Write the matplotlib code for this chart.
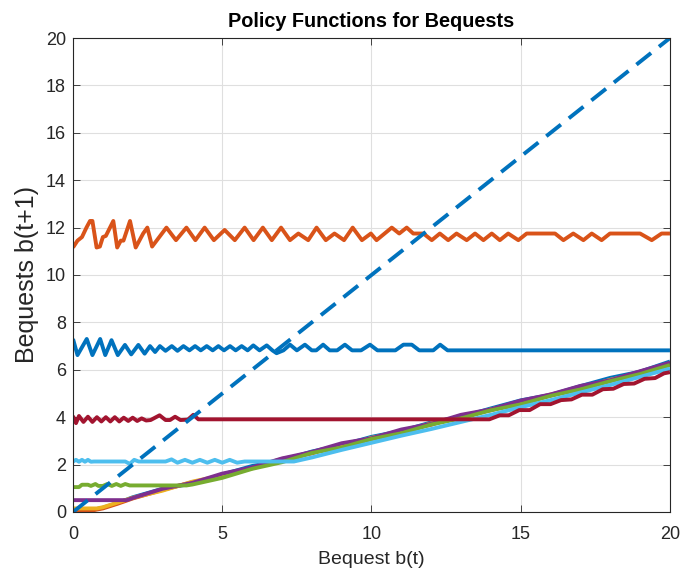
import matplotlib.pyplot as plt

plt.rcParams['font.family'] = ['Liberation Sans', 'DejaVu Sans']

# MATLAB default colour order
BLUE = '#0072BD'
ORANGE = '#D95319'
YELLOW = '#EDB120'
PURPLE = '#7E2F8E'
GREEN = '#77AC30'
LBLUE = '#4DBEEE'
DRED = '#A2142F'
AX_COL = '#262626'

# policy functions b(t+1) = g(b(t)), one per state
rise_x = list(range(2, 21))

blue_lo_x = [0, 0.5, 1, 1.5] + rise_x
blue_lo_y = [0.0, 0.05, 0.18, 0.38, 0.62, 0.98, 1.20, 1.58, 1.94, 2.18, 2.55, 2.82,
             3.17, 3.42, 3.78, 4.01, 4.37, 4.71, 4.94, 5.31, 5.66, 5.92, 6.35]

orange_lo_x = [0, 0.5, 1, 1.5] + rise_x
orange_lo_y = [0.0, 0.03, 0.15, 0.35, 0.57, 0.93, 1.26, 1.5, 1.86, 2.24, 2.47, 2.86,
               3.08, 3.44, 3.68, 4.07, 4.29, 4.66, 4.91, 5.27, 5.53, 5.92, 6.25]

yellow_x = [0, 0.8, 1.0, 1.5] + rise_x
yellow_y = [0.15, 0.15, 0.2, 0.4, 0.6, 0.9, 1.28, 1.55, 1.84, 2.22, 2.51, 2.78,
            3.13, 3.39, 3.74, 3.97, 4.33, 4.61, 4.96, 5.22, 5.58, 5.86, 6.2]

purple_x = [0, 1.8] + rise_x
purple_y = [0.5, 0.5, 0.59, 0.98, 1.23, 1.62, 1.88, 2.26, 2.53, 2.9, 3.11, 3.48,
            3.72, 4.1, 4.33, 4.7, 4.96, 5.32, 5.56, 5.94, 6.3]

green_x = [0, 0.2, 0.3, 0.5, 0.6, 0.75, 0.85, 1.0, 1.15, 1.3, 1.45, 1.6, 1.75, 1.9,
           3.8] + list(range(4, 21))
green_y = [1.05, 1.05, 1.15, 1.15, 1.1, 1.18, 1.1, 1.1, 1.18, 1.1, 1.18, 1.1, 1.18, 1.12,
           1.12, 1.16, 1.44, 1.82, 2.1, 2.49, 2.72, 3.08, 3.32, 3.69, 3.95, 4.29,
           4.54, 4.9, 5.17, 5.52, 5.82, 6.2]

lblue_x = [0, 0.1, 0.2, 0.3, 0.4, 0.5, 0.6, 0.7, 1.75, 1.9, 2.05, 2.2, 3.1, 3.3,
           3.5, 3.75, 4.0, 4.25, 4.5, 4.75, 5.0, 5.25, 5.5, 5.75, 7.4] + list(range(8, 21))
lblue_y = [2.13, 2.2, 2.12, 2.2, 2.12, 2.2, 2.12, 2.13, 2.13, 2.03, 2.2, 2.13, 2.13, 2.22,
           2.08, 2.2, 2.08, 2.2, 2.08, 2.2, 2.08, 2.2, 2.08, 2.13, 2.13, 2.3, 2.62,
           2.92, 3.22, 3.5, 3.8, 4.1, 4.42, 4.72, 5.04, 5.36, 5.7, 6.05]

dred_x = [0, 0.1, 0.2, 0.35, 0.5, 0.65, 0.8, 0.95, 1.1, 1.25, 1.4, 1.55, 1.7, 1.85,
          2.0, 2.15, 2.3, 2.45, 2.6, 2.9, 3.1, 3.25, 3.42, 3.6, 3.85, 4.03, 4.2,
          13.95, 14.3, 14.6, 14.95, 15.3, 15.65, 16.0, 16.35, 16.7, 17.05, 17.4,
          17.75, 18.1, 18.45, 18.8, 19.15, 19.5, 19.8, 20]
dred_y = [4.05, 3.75, 4.05, 3.8, 4.02, 3.8, 4.0, 3.82, 4.0, 3.82, 4.0, 3.82, 3.98, 3.84,
          3.98, 3.84, 3.95, 3.86, 3.88, 4.08, 3.88, 3.88, 4.02, 3.88, 3.9, 4.1, 3.91,
          3.91, 4.08, 4.08, 4.3, 4.3, 4.55, 4.55, 4.72, 4.75, 4.95, 4.95, 5.18,
          5.2, 5.4, 5.42, 5.62, 5.65, 5.85, 5.9]

blue_hi_x = [0, 0.15, 0.46, 0.65, 0.91, 1.08, 1.29, 1.5, 1.74, 1.95, 2.19, 2.4, 2.58,
             2.75, 2.91, 3.1, 3.31, 3.5, 3.7, 3.9, 4.09, 4.28, 4.48, 4.68, 4.87, 5.06,
             5.26, 5.45, 5.65, 5.85, 6.04, 6.25, 6.49, 6.68, 6.82, 7.05, 7.27, 7.5,
             7.77, 8.0, 8.15, 8.38, 8.6, 8.85, 9.11, 9.35, 9.65, 9.95, 10.2, 10.8,
             11.07, 11.35, 11.6, 12.07, 12.3, 12.55, 20]
blue_hi_y = [7.3, 6.62, 7.3, 6.62, 7.3, 6.62, 7.25, 6.62, 7.05, 6.65, 7.05, 6.68, 7.0,
             6.75, 7.0, 6.8, 7.0, 6.8, 7.0, 6.82, 7.0, 6.82, 7.0, 6.82, 7.0, 6.82,
             7.0, 6.82, 7.0, 6.82, 7.03, 6.82, 7.03, 6.82, 6.7, 6.82, 7.06, 6.82,
             7.06, 6.82, 6.82, 7.06, 6.82, 6.82, 7.06, 6.82, 6.82, 7.06, 6.82, 6.82,
             7.06, 7.06, 6.82, 6.82, 7.06, 6.82, 6.82]

orange_hi_x = [0.0, 0.15, 0.3, 0.45, 0.57, 0.65, 0.79, 0.9, 1.0, 1.1, 1.35, 1.48, 1.6,
               1.69, 1.91, 2.1, 2.35, 2.49, 2.65, 3.13, 3.45, 3.8, 4.1, 4.41, 4.72,
               5.08, 5.42, 5.75, 6.05, 6.36, 6.66, 6.97, 7.27, 7.55, 7.88, 8.16, 8.47,
               8.76, 9.08, 9.37, 9.68, 9.98, 10.17, 10.68, 10.93, 11.18, 11.4, 11.74,
               12.02, 12.29, 12.57, 12.85, 13.19, 13.47, 13.75, 14.03, 14.3, 14.58,
               14.92, 15.2, 16.15, 16.43, 16.76, 17.1, 17.38, 17.71, 17.99, 19.0,
               19.39, 19.72, 20.0]
orange_hi_y = [11.16, 11.45, 11.6, 12.0, 12.28, 12.28, 11.16, 11.2, 11.6, 11.65, 12.28,
               11.16, 11.45, 11.45, 12.28, 11.16, 11.75, 12.0, 11.2, 12.0, 11.47, 12.0,
               11.47, 12.0, 11.47, 11.9, 11.47, 12.0, 11.47, 12.0, 11.47, 12.0, 11.47,
               11.75, 11.47, 12.0, 11.47, 11.75, 11.47, 12.0, 11.47, 11.75, 11.47,
               12.0, 11.75, 12.0, 11.75, 11.75, 11.47, 11.75, 11.47, 11.75, 11.47,
               11.75, 11.47, 11.75, 11.47, 11.75, 11.47, 11.75, 11.75, 11.47, 11.75,
               11.47, 11.75, 11.47, 11.75, 11.75, 11.47, 11.75, 11.75]

# 45 degree line b(t+1) = b(t)
diag_x = [0, 20]
diag_y = [0, 20]

series = [
    (blue_lo_x, blue_lo_y, BLUE),
    (orange_lo_x, orange_lo_y, ORANGE),
    (yellow_x, yellow_y, YELLOW),
    (purple_x, purple_y, PURPLE),
    (green_x, green_y, GREEN),
    (lblue_x, lblue_y, LBLUE),
    (dred_x, dred_y, DRED),
    (blue_hi_x, blue_hi_y, BLUE),
    (orange_hi_x, orange_hi_y, ORANGE),
]

fig = plt.figure(figsize=(6.83, 5.69), dpi=100)
ax = fig.add_axes([0.1069, 0.1002, 0.874, 0.833])

for xs, ys, col in series:
    ax.plot(xs, ys, color=col, linewidth=2.8, solid_joinstyle='round',
            solid_capstyle='butt')

ax.plot(diag_x, diag_y, color=BLUE, linewidth=2.8, linestyle=(0, (4.8, 2.6)))

ax.set_xlim(0, 20)
ax.set_ylim(0, 20)
ax.set_xticks(range(0, 21, 5))
ax.set_yticks(range(0, 21, 2))

ax.grid(True, color='#DFDFDF', linewidth=0.8)
ax.set_axisbelow(True)
ax.tick_params(direction='in', length=5, width=0.6, top=True, right=True,
               colors=AX_COL, labelsize=13)
ax.tick_params(axis='x', pad=10)
ax.tick_params(axis='y', pad=5)
for sp in ax.spines.values():
    sp.set_color(AX_COL)
    sp.set_linewidth(0.8)

ax.set_title('Policy Functions for Bequests', fontsize=14.3, fontweight='bold', pad=8)
ax.set_xlabel('Bequest b(t)', fontsize=14, color=AX_COL, labelpad=6)
ax.set_ylabel('Bequests b(t+1)', fontsize=18, color=AX_COL, labelpad=5)

fig.savefig('out.png', dpi=100)
